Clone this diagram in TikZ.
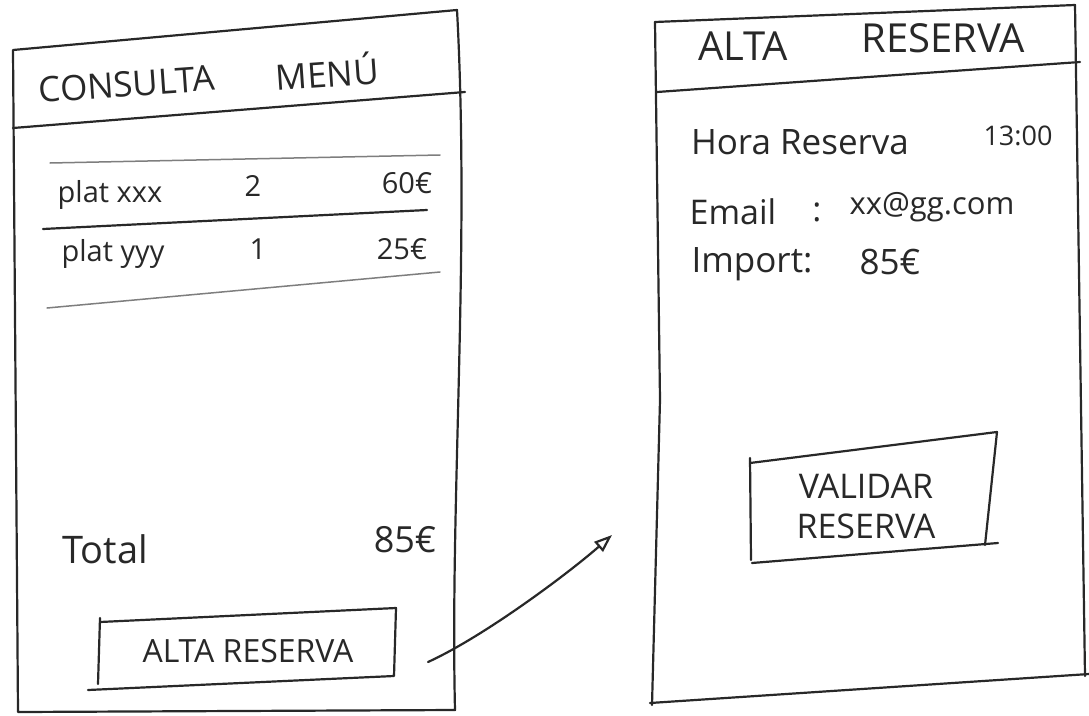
\documentclass[tikz,border=0pt]{standalone}
\usepackage{fontspec}
\setmainfont{Open Sans}
\usetikzlibrary{arrows.meta}
\definecolor{ink}{RGB}{40,40,40}
\begin{document}
\begin{tikzpicture}[x=1pt,y=-1pt,
  pen/.style={draw=ink, line width=2.2pt, line cap=round, line join=round},
  faint/.style={draw=ink!60, line width=1.5pt, line cap=round},
  hand/.style={text=ink, inner sep=0pt, font=\fontsize{#1}{#1}\selectfont},
  hand/.default=30]
\useasboundingbox[fill=white] (0,0) rectangle (1089,715);

% ---------- left screen: CONSULTA MENU ----------
\draw[pen] (13,50) -- (457,10) .. controls (470,250) and (450,500) .. (455,710) -- (18,712) -- cycle;
\draw[pen] (13,128) -- (465,92);
\draw[faint] (50,163) -- (440,155);
\draw[pen] (43,229) -- (427,210);
\draw[faint] (47,308) -- (440,272);

\node[hand=35, rotate=4] (cons) at (127,84) {CONSULTA};
\node[hand=35, rotate=4] (menu) at (327,71) {MENÚ};

\node[hand=29] (p1) at (110,195) {plat xxx};
\node[hand=29] (q1) at (253,186) {2};
\node[hand=29] (e1) at (407,183) {60€};
\node[hand=29] (p2) at (113,254) {plat yyy};
\node[hand=29] (q2) at (258,249) {1};
\node[hand=29] (e2) at (402,249) {25€};

\node[hand=38] (tot) at (105,549) {Total};
\node[hand=36] (tote) at (405,540) {85€};

\node[hand=32] (btn) at (248,651) {ALTA RESERVA};
\draw[pen] (100,622) -- (396,608) -- (394,676) -- (88,690);
\draw[pen] (100,618) -- (98,684);

% ---------- arrow ----------
\coordinate (astart) at (428,662);
\coordinate (aend) at (612,535);
\draw[pen, -{Triangle[open, length=18pt, width=13pt]}] (astart) .. controls (485,636) and (570,572) .. (aend);

% ---------- right screen: ALTA RESERVA ----------
\draw[pen] (655,22) -- (1075,5) -- (1085,676);
\draw[pen] (655,22) -- (660,400) -- (652,705);
\draw[pen] (650,703) -- (1089,674);
\draw[pen] (657,92) -- (1080,62);

\node[hand=40] (alta) at (743,46) {ALTA};
\node[hand=40] (res) at (943,38) {RESERVA};

\node[hand=35] (hora) at (800,142) {Hora Reserva};
\node[hand=27] (hval) at (1018,136) {13:00};
\node[hand=34] (email) at (733,212) {Email};
\node[hand=34] (col1) at (817,212) {:};
\node[hand=31] (mail) at (932,207) {xx@gg.com};
\node[hand=35] (imp) at (752,264) {Import:};
\node[hand=35] (impv) at (890,262) {85€};

\node[hand=34] (vb1) at (866,486) {VALIDAR};
\node[hand=34] (vb2) at (866,526) {RESERVA};
\draw[pen] (750,463) -- (997,432) -- (985,545);
\draw[pen] (752,563) -- (998,543);
\draw[pen] (750,458) -- (751,560);
\end{tikzpicture}
\end{document}
